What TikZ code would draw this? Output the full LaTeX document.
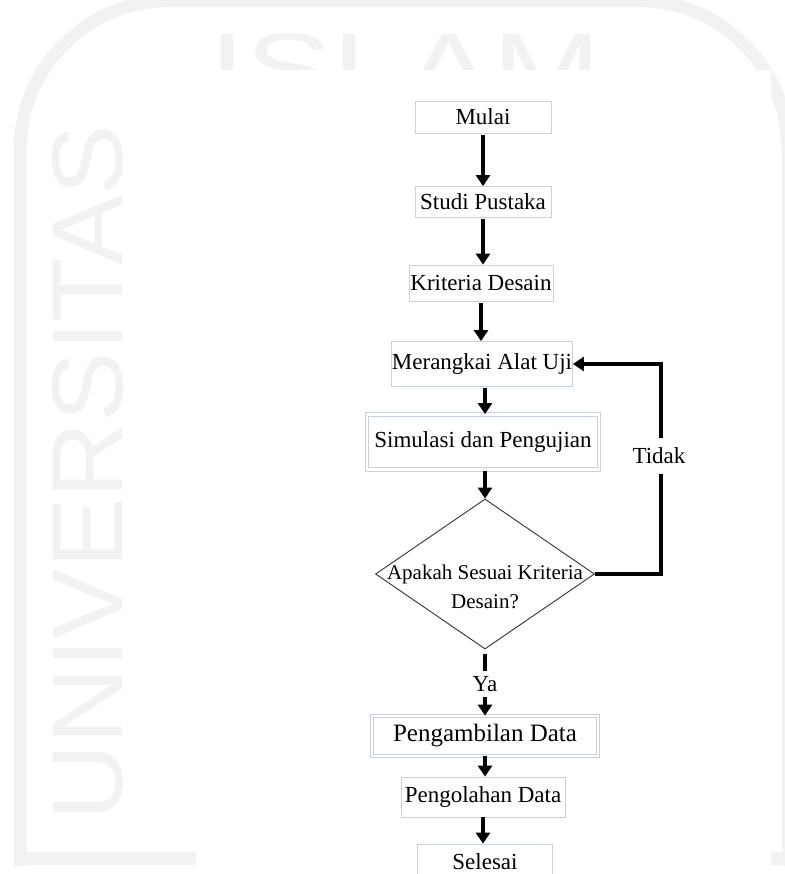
\documentclass[tikz,border=0pt]{standalone}
\usepackage{fontspec}
\setmainfont{Liberation Serif}
\newfontfamily\wmfont{Liberation Sans}
\usetikzlibrary{arrows.meta,shapes.geometric}
\definecolor{wmgray}{gray}{0.95}
\definecolor{boxline}{HTML}{CAD1DA}
\tikzset{
  procbox/.style={draw=boxline, line width=0.8bp, inner sep=0pt,
    font=\fontsize{23bp}{27bp}\selectfont},
  procdouble/.style={procbox, double=white, double distance=2.5bp},
  decision/.style={diamond, draw=black!80, line width=0.9bp, inner sep=0pt},
  flowline/.style={line width=3.6bp, black},
  flowarrow/.style={flowline, -{Triangle[width=14bp,length=11bp]}},
  lbl/.style={inner sep=0pt, font=\fontsize{23bp}{27bp}\selectfont},
  wmframe/.style={draw=wmgray, line width=13bp},
  wmtext/.style={text=wmgray, inner sep=0pt,
    font=\wmfont\fontsize{100.5bp}{100bp}\selectfont},
}
\begin{document}
\begin{tikzpicture}[x=1bp,y=-1bp]
\useasboundingbox (0,0) rectangle (785,874);

% faint university watermark behind the page
\draw[wmframe, rounded corners=150bp] (20,866) -- (20,0.5) -- (788,0.5) -- (788,866);
\draw[wmframe] (13.5,858) -- (795,858);
\node[wmtext, rotate=90, anchor=base west] (wmuni) at (122,821)
  {\scalebox{1.05}[1]{UNIVERSITAS}};
\node[wmtext, anchor=base west] (wmislam) at (209,103)
  {\scalebox{1.3}[1]{ISLAM}};

% white sheet carrying the flowchart
\fill[white] (196,70) rectangle (771,874);

% process steps
\node[procbox, minimum width=136bp, minimum height=32bp] (mulai) at (483,117) {Mulai};
\node[procbox, minimum width=136bp, minimum height=31bp] (studi) at (483,202) {Studi Pustaka};
\node[procbox, minimum width=144bp, minimum height=36bp] (kriteria) at (481,283) {Kriteria Desain};
\node[procbox, minimum width=181bp, minimum height=45bp] (merangkai) at (482,364) {Merangkai Alat Uji};
\node[procdouble, minimum width=232bp, minimum height=55bp] (simulasi) at (483,442) {Simulasi dan Pengujian};
\node[decision, minimum width=219bp, minimum height=150bp] (dec) at (485,574) {};
\node[inner sep=0pt, align=center, font=\fontsize{21bp}{29bp}\selectfont] (dectext) at (485,587)
  {Apakah Sesuai Kriteria\\Desain?};
\node[lbl, minimum height=26bp] (ya) at (485,684) {Ya};
\node[procdouble, minimum width=226bp, minimum height=40bp,
  font=\fontsize{25bp}{29bp}\selectfont] (ambil) at (485,736) {Pengambilan Data};
\node[procbox, minimum width=164bp, minimum height=40bp] (olah) at (483,797) {Pengolahan Data};
\node[procbox, minimum width=135bp, minimum height=36bp] (selesai) at (485,862) {Selesai};
\node[lbl, minimum height=36bp] (tidak) at (659,456) {Tidak};

% main flow
\draw[flowarrow, shorten <=1.5bp] (mulai.south) -- (mulai.south |- studi.north);
\draw[flowarrow, shorten <=1.5bp] (studi.south) -- (studi.south |- kriteria.north);
\draw[flowarrow, shorten <=1.5bp] (kriteria.south) -- (kriteria.south |- merangkai.north);
\draw[flowarrow, shorten <=1bp] ([xshift=3bp]merangkai.south) -- ([xshift=3bp]merangkai.south |- simulasi.north);
\draw[flowarrow, shorten <=1bp] (dec.north |- simulasi.south) -- (dec.north);
\draw[flowline] ([yshift=-5bp]dec.south) -- (ya.north);
\draw[flowarrow] (ya.south) -- (ya.south |- ambil.north);
\draw[flowarrow] (ambil.south) -- (ambil.south |- olah.north);
\draw[flowarrow] (olah.south) -- (olah.south |- selesai.north);

% loop back when the criteria are not met
\draw[flowline] (dec.east) -| ([xshift=2bp]tidak.south);
\draw[flowarrow] ([xshift=2bp]tidak.north) |- (merangkai.east);
\end{tikzpicture}
\end{document}
